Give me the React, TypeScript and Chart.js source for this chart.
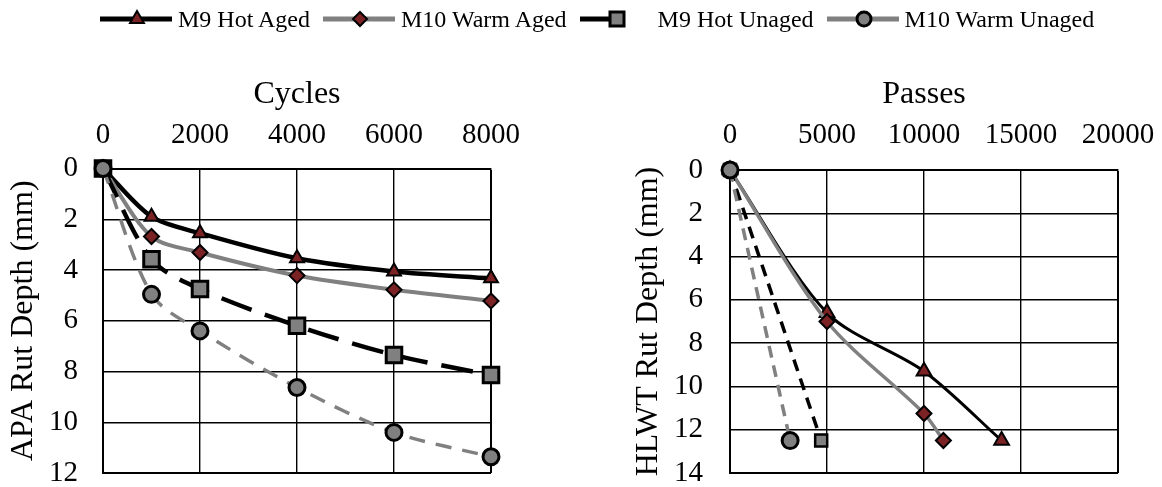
import React, { useEffect, useRef } from 'react';
import { Chart, registerables } from 'chart.js';

Chart.register(...registerables);

// ---------- Data ----------
const seriesNames = ['M9 Hot Aged', 'M10 Warm Aged', 'M9 Hot Unaged', 'M10 Warm Unaged'];

// APA (left) – cycles vs rut depth (mm)
const apaCycles = [0, 1000, 2000, 4000, 6000, 8000];
const apaM9HotAged = [0, 1.9, 2.55, 3.54, 4.06, 4.33];
const apaM10WarmAged = [0, 2.68, 3.31, 4.22, 4.78, 5.22];
const apaM9HotUnaged = [0, 3.58, 4.75, 6.2, 7.35, 8.14];
const apaM10WarmUnaged = [0, 4.96, 6.4, 8.63, 10.4, 11.36];

// HLWT (right) – passes vs rut depth (mm)
const hlwtM9HotAgedPasses = [0, 5000, 10000, 14000];
const hlwtM9HotAgedDepth = [0, 6.6, 9.3, 12.5];
const hlwtM10WarmAgedPasses = [0, 5000, 10000, 11000];
const hlwtM10WarmAgedDepth = [0, 7.0, 11.25, 12.5];
const hlwtM9HotUnagedPasses = [0, 4700];
const hlwtM9HotUnagedDepth = [0, 12.5];
const hlwtM10WarmUnagedPasses = [0, 3100];
const hlwtM10WarmUnagedDepth = [0, 12.5];

// ---------- Styles ----------
const FONT = "'Liberation Serif', 'Times New Roman', serif";
const DARK_RED = '#7B2224';
const GRAY = '#808080';

const toPoints = (xs: number[], ys: number[]) => xs.map((x, i) => ({ x, y: ys[i] }));

type SeriesStyle = {
  color: string;
  width: number;
  dash: number[];
  pointStyle: string;
  radius: number;
  fill: string;
  pointBorder: number;
};

const apaStyles: SeriesStyle[] = [
  { color: '#000', width: 4.5, dash: [], pointStyle: 'triangle', radius: 8, fill: DARK_RED, pointBorder: 2 },
  { color: GRAY, width: 4, dash: [], pointStyle: 'rectRot', radius: 7.5, fill: DARK_RED, pointBorder: 2 },
  { color: '#000', width: 4.5, dash: [32, 14], pointStyle: 'rect', radius: 11, fill: GRAY, pointBorder: 3 },
  { color: GRAY, width: 3.5, dash: [16, 11], pointStyle: 'circle', radius: 8, fill: GRAY, pointBorder: 3 },
];

const hlwtStyles: SeriesStyle[] = [
  { color: '#000', width: 3, dash: [], pointStyle: 'triangle', radius: 8.5, fill: DARK_RED, pointBorder: 2 },
  { color: GRAY, width: 3.5, dash: [], pointStyle: 'rectRot', radius: 7.5, fill: DARK_RED, pointBorder: 2 },
  { color: '#000', width: 3.5, dash: [12, 8], pointStyle: 'rect', radius: 8.5, fill: GRAY, pointBorder: 2.5 },
  { color: GRAY, width: 3.5, dash: [12, 8], pointStyle: 'circle', radius: 8, fill: GRAY, pointBorder: 3 },
];

function makeDatasets(series: { x: number; y: number }[][], styles: SeriesStyle[], tension: number) {
  return series.map((pts, i) => {
    const s = styles[i];
    return {
      label: seriesNames[i],
      data: pts,
      borderColor: s.color,
      borderWidth: s.width,
      borderDash: s.dash,
      pointStyle: s.pointStyle,
      pointRadius: s.radius,
      pointBackgroundColor: s.fill,
      pointBorderColor: '#000',
      pointBorderWidth: s.pointBorder,
      tension,
      fill: false,
      clip: false,
      order: 3 - i,
    };
  });
}

type AxisCfg = {
  xMax: number;
  xStep: number;
  yMax: number;
  xTitle: string;
  yTitle: string;
  padRight: number;
  padBottom: number;
  yAxisWidth: number;
  xAxisHeight: number;
  yTitlePad: number;
  yTickPad: number;
  xTickPad: number;
};

function makeOptions(c: AxisCfg): any {
  const gridWidth = (max: number) => (ctx: any) => (ctx.tick && ctx.tick.value === max ? 2 : 1.4);
  return {
    responsive: false,
    animation: false,
    devicePixelRatio: 1,
    events: [],
    layout: { autoPadding: false, padding: { left: 0, right: c.padRight, top: 70, bottom: c.padBottom } },
    plugins: { legend: { display: false }, tooltip: { enabled: false }, title: { display: false } },
    scales: {
      x: {
        type: 'linear',
        position: 'top',
        min: 0,
        max: c.xMax,
        ticks: {
          stepSize: c.xStep,
          padding: c.xTickPad,
          color: '#000',
          font: { family: FONT, size: 29 },
          maxRotation: 0,
          callback: (v: number) => String(v),
        },
        grid: { color: '#000', lineWidth: gridWidth(c.xMax), drawTicks: false },
        border: { color: '#000', width: 2 },
        title: {
          display: true,
          text: c.xTitle,
          color: '#000',
          font: { family: FONT, size: 32 },
          padding: { top: 5, bottom: 0 },
        },
        afterFit: (s: any) => {
          s.height = c.xAxisHeight;
          s.paddingLeft = 0;
          s.paddingRight = 0;
        },
      },
      y: {
        type: 'linear',
        reverse: true,
        min: 0,
        max: c.yMax,
        ticks: {
          stepSize: 2,
          padding: c.yTickPad,
          color: '#000',
          font: { family: FONT, size: 29 },
        },
        grid: { color: '#000', lineWidth: gridWidth(c.yMax), drawTicks: false },
        border: { color: '#000', width: 2 },
        title: {
          display: true,
          text: c.yTitle,
          color: '#000',
          font: { family: FONT, size: 32 },
          padding: { top: c.yTitlePad, bottom: 0 },
        },
        afterFit: (s: any) => {
          s.width = c.yAxisWidth;
          s.paddingTop = 0;
          s.paddingBottom = 0;
        },
      },
    },
  };
}

function ChartCanvas({ config, width, height, left }: { config: any; width: number; height: number; left: number }) {
  const ref = useRef<HTMLCanvasElement | null>(null);
  useEffect(() => {
    if (!ref.current) return;
    const chart = new Chart(ref.current, config);
    return () => chart.destroy();
  }, []);
  return (
    <canvas
      ref={ref}
      width={width}
      height={height}
      style={{ position: 'absolute', left, top: 0, width, height }}
    />
  );
}

function LegendIcon({ index }: { index: number }) {
  const s = apaStyles[index];
  const cy = 12;
  const cx = 37;
  let marker: React.ReactNode = null;
  if (s.pointStyle === 'triangle') {
    const r = 8;
    const pts = [
      [cx, cy - r],
      [cx + r * 0.866, cy + r * 0.5],
      [cx - r * 0.866, cy + r * 0.5],
    ]
      .map((p) => p.join(','))
      .join(' ');
    marker = <polygon points={pts} fill={s.fill} stroke="#000" strokeWidth={2} />;
  } else if (s.pointStyle === 'rectRot') {
    const r = 7;
    const pts = [
      [cx, cy - r],
      [cx + r, cy],
      [cx, cy + r],
      [cx - r, cy],
    ]
      .map((p) => p.join(','))
      .join(' ');
    marker = <polygon points={pts} fill={s.fill} stroke="#000" strokeWidth={2} />;
  } else if (s.pointStyle === 'rect') {
    marker = <rect x={cx - 7} y={cy - 7} width={14} height={14} fill={s.fill} stroke="#000" strokeWidth={3} />;
  } else {
    marker = <circle cx={cx} cy={cy} r={7} fill={s.fill} stroke="#000" strokeWidth={3} />;
  }
  const lineEnd = s.pointStyle === 'rect' ? 32 : 72;
  return (
    <svg width={72} height={24} style={{ display: 'block', flex: '0 0 auto' }}>
      <line x1={0} y1={cy} x2={lineEnd} y2={cy} stroke={s.color} strokeWidth={5} />
      {marker}
    </svg>
  );
}

function Legend() {
  return (
    <div
      style={{
        position: 'absolute',
        left: 100,
        top: 7,
        display: 'flex',
        alignItems: 'center',
        fontFamily: FONT,
        fontSize: 24,
        lineHeight: '24px',
        color: '#000',
        whiteSpace: 'nowrap',
        zIndex: 2,
      }}
    >
      {seriesNames.map((name, i) => (
        <div key={name} style={{ display: 'flex', alignItems: 'center', marginRight: 13 }}>
          <LegendIcon index={i} />
          <span style={{ marginLeft: 6 }}>{name}</span>
        </div>
      ))}
    </div>
  );
}

export default function App() {
  const apaSeries = [
    toPoints(apaCycles, apaM9HotAged),
    toPoints(apaCycles, apaM10WarmAged),
    toPoints(apaCycles, apaM9HotUnaged),
    toPoints(apaCycles, apaM10WarmUnaged),
  ];
  const hlwtSeries = [
    toPoints(hlwtM9HotAgedPasses, hlwtM9HotAgedDepth),
    toPoints(hlwtM10WarmAgedPasses, hlwtM10WarmAgedDepth),
    toPoints(hlwtM9HotUnagedPasses, hlwtM9HotUnagedDepth),
    toPoints(hlwtM10WarmUnagedPasses, hlwtM10WarmUnagedDepth),
  ];

  const leftConfig = {
    type: 'line',
    data: { datasets: makeDatasets(apaSeries, apaStyles, 0.3) },
    options: makeOptions({
      xMax: 8000,
      xStep: 2000,
      yMax: 12,
      xTitle: 'Cycles',
      yTitle: 'APA Rut Depth (mm)',
      padRight: 89,
      padBottom: 14,
      yAxisWidth: 103,
      xAxisHeight: 98.5,
      yTitlePad: 4,
      yTickPad: 25,
      xTickPad: 16,
    }),
  };

  const rightConfig = {
    type: 'line',
    data: { datasets: makeDatasets(hlwtSeries, hlwtStyles, 0.3) },
    options: makeOptions({
      xMax: 20000,
      xStep: 5000,
      yMax: 14,
      xTitle: 'Passes',
      yTitle: 'HLWT Rut Depth (mm)',
      padRight: 44,
      padBottom: 14,
      yAxisWidth: 150,
      xAxisHeight: 100,
      yTitlePad: 49,
      yTickPad: 27,
      xTickPad: 17,
    }),
  };

  return (
    <div
      style={{
        position: 'fixed',
        left: 0,
        top: 0,
        width: 1162,
        height: 487,
        background: '#fff',
        overflow: 'hidden',
      }}
    >
      <Legend />
      <ChartCanvas config={leftConfig} width={580} height={487} left={0} />
      <ChartCanvas config={rightConfig} width={582} height={487} left={580} />
    </div>
  );
}
